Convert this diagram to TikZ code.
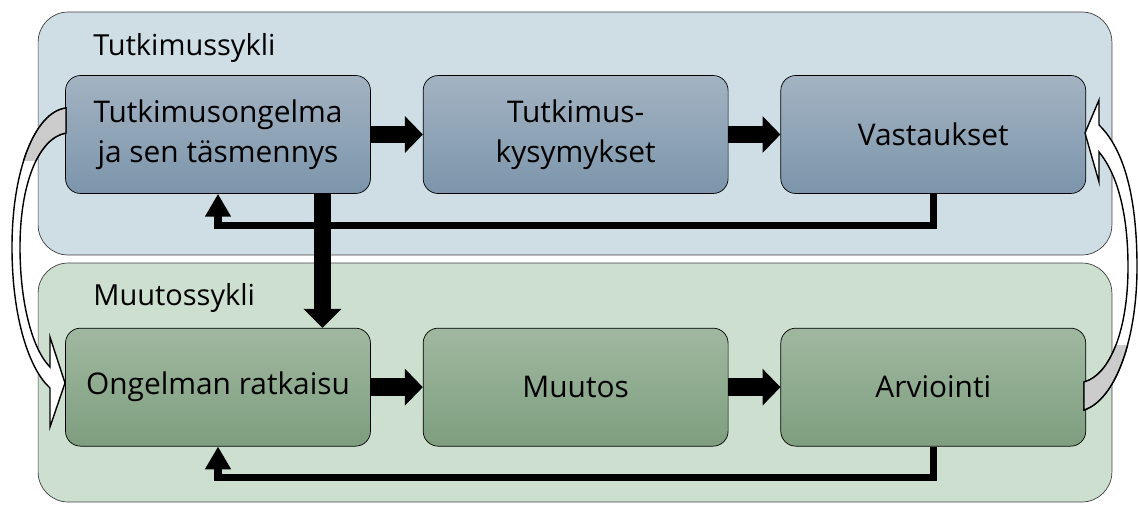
\documentclass[tikz,border=0pt]{standalone}
\usepackage{fontspec}
\setmainfont{Open Sans}
\usetikzlibrary{arrows.meta}
\usetikzlibrary{positioning}

\definecolor{tcyc}{RGB}{207,222,229}
\definecolor{mcyc}{RGB}{205,223,207}
\definecolor{ttop}{RGB}{163,179,194}
\definecolor{tbot}{RGB}{124,149,171}
\definecolor{mtop}{RGB}{160,184,160}
\definecolor{mbot}{RGB}{126,158,127}

\newcommand\stepfont{\fontsize{17}{22.5}\selectfont}
\newcommand\cyclefont{\fontsize{16.5}{19}\selectfont}

% curved hollow arrows between the two cycles
\def\leftband{(66,108) .. controls (35,112) and (12,170) .. (12,247) .. controls (12,320) and (30,370) .. (50,388)
    -- (50,427) -- (65,383) -- (50,337) -- (50,367) .. controls (33,350) and (20,305) .. (20,247)
    .. controls (20,185) and (38,138) .. (66,133) -- cycle}
\def\rightband{(1084,410) .. controls (1115,400) and (1137,340) .. (1137,267) .. controls (1137,200) and (1125,150) .. (1099,125)
    -- (1099,100) -- (1085,133) -- (1099,182) -- (1099,152) .. controls (1118,175) and (1128,215) .. (1128,267)
    .. controls (1128,330) and (1110,375) .. (1084,382) -- cycle}

\begin{document}
\begin{tikzpicture}
    [x=0.02cm, y=-0.02cm,
     cyclet/.style={rectangle, rounded corners=0.6cm, draw=black!75, fill=tcyc, minimum width=21.48cm, minimum height=4.86cm},
     cyclem/.style={rectangle, rounded corners=0.6cm, draw=black!75, fill=mcyc, minimum width=21.48cm, minimum height=4.78cm},
     stept/.style={rectangle, rounded corners=0.3cm, draw=black, top color=ttop, bottom color=tbot, minimum width=6.1cm, minimum height=2.36cm, align=center, font=\stepfont},
     stepm/.style={rectangle, rounded corners=0.3cm, draw=black, top color=mtop, bottom color=mbot, minimum width=6.1cm, minimum height=2.36cm, align=center, font=\stepfont},
     blk/.style={line width=10.2pt, -{Triangle[length=10.2pt, width=20.4pt]}},
     fb/.style={line width=4pt, -{Triangle[length=13pt, width=14pt]}},
     cl/.style={anchor=base west, inner sep=0pt, font=\cyclefont}]

    \useasboundingbox (0,0) rectangle (1138,504);

    \node [cyclet] (tc) at (575,133.5) {};
    \node [cyclem] (mc) at (575,382.5) {};
    \node [cl] (tl) at (93,55) {Tutkimussykli};
    \node [cl] (ml) at (93,305) {Muutossykli};

    \node [stept] (t1) at (218,134.5) {Tutkimusongelma\\ja sen täsmennys};
    \node [stept, right=1.04cm of t1] (t2) {Tutkimus-\\kysymykset};
    \node [stept, right=1.04cm of t2] (t3) {Vastaukset};
    \node [stepm, below=2.68cm of t1] (m1) {Ongelman ratkaisu};
    \node [stepm, right=1.04cm of m1] (m2) {Muutos};
    \node [stepm, right=1.04cm of m2] (m3) {Arviointi};

    \draw [blk] (t1) -- (t2);
    \draw [blk] (t2) -- (t3);
    \draw [blk] (m1) -- (m2);
    \draw [blk] (m2) -- (m3);
    \draw [blk, -{Triangle[length=10.8pt, width=21pt]}] ([xshift=2.09cm] t1.south) -- ([xshift=2.09cm] m1.north);

    \draw [fb] (t3.south) -- ++(0,32) -| (t1.south);
    \draw [fb] (m3.south) -- ++(0,31) -| (m1.south);

    \path [fill=white, draw=black, thick] \leftband;
    \begin{scope}
        \clip (0,0) rectangle (70,160);
        \path [fill=black!20, draw=black, thick] \leftband;
    \end{scope}
    \path [fill=white, draw=black, thick] \rightband;
    \begin{scope}
        \clip (1078,345) rectangle (1138,420);
        \path [fill=black!20, draw=black, thick] \rightband;
    \end{scope}
\end{tikzpicture}
\end{document}
